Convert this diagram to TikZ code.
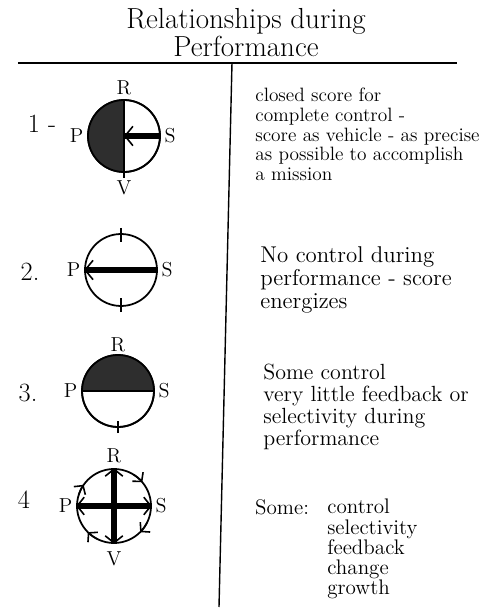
\documentclass[tikz,border=0pt]{standalone}
\usepackage{tikz}
\usetikzlibrary{arrows.meta,positioning}

\begin{document}
\begin{tikzpicture}[
  x=0.02cm, y=0.02cm,
  node distance=1pt,
  title/.style={font=\fontsize{16.5}{17}\selectfont, inner sep=0pt},
  ring/.style={circle, draw, line width=1pt, minimum size=1.44cm, inner sep=0pt},
  pole/.style={font=\fontsize{11.5}{12}\selectfont, inner sep=1pt},
  num/.style={font=\fontsize{15}{16}\selectfont},
  note/.style={align=left, anchor=north west, inner sep=0pt,
    font=\fontsize{11}{11.2}\selectfont},
  bar/.style={line width=3.4pt},
  tip/.style={line width=0.9pt, -{Straight Barb[length=4.5pt,width=11pt]}},
  tips/.style={line width=0.9pt,
    {Straight Barb[length=4pt,width=10pt]}-{Straight Barb[length=4pt,width=10pt]}},
  spin/.style={line width=0.9pt, -{Straight Barb[length=3.5pt,width=8pt]}},
  tick/.style={line width=0.9pt},
  dark/.style={fill=black!82},
  rule/.style={line width=0.8pt}
]
  \useasboundingbox (0,0) rectangle (491,610);

  % Heading
  \node[title] (head) at (246,589) {Relationships during};
  \node[title, below=1pt of head] (head2) {Performance};

  % Rules
  \coordinate (top) at (232,547);
  \coordinate (foot) at (219,3);
  \draw[rule] (18,547) -- (457,547);
  \draw[rule] (top) -- (foot);

  % 1 - closed score
  \node[ring] (c1) at (124,474) {};
  \fill[dark] (c1.center) ++(0,36) arc[start angle=90, end angle=270, radius=36] -- cycle;
  \draw[ring] (c1.center) circle[radius=36];
  \draw[tick] (c1.north) -- ([yshift=-3pt]c1.south);
  \draw[bar] (c1.east) -- (c1.center);
  \draw[tip] (c1.east) -- (c1.center);
  \node[pole, above=of c1] (r1) {R};
  \node[pole, left=of c1] (p1) {P};
  \node[pole, right=of c1] (s1) {S};
  \node[pole, below=3pt of c1] (v1) {V};
  \node[num] (n1) at (42,486) {1 -};

  % 2. no control
  \node[ring] (c2) at (121,340) {};
  \draw[tick] ([yshift=3pt]c2.north) -- ++(0,-8pt);
  \draw[tick] ([yshift=-3pt]c2.south) -- ++(0,8pt);
  \draw[bar] (c2.east) -- (c2.west);
  \draw[tip] (c2.east) -- (c2.west);
  \node[pole, left=of c2] (p2) {P};
  \node[pole, right=of c2] (s2) {S};
  \node[num] (n2) at (30,338) {2.};

  % 3. some control
  \node[ring] (c3) at (118,219) {};
  \fill[dark] (c3.center) ++(36,0) arc[start angle=0, end angle=180, radius=36] -- cycle;
  \draw[ring] (c3.center) circle[radius=36];
  \draw[tick] (c3.west) -- (c3.east);
  \draw[tick] ([yshift=-3pt]c3.south) -- ++(0,7pt);
  \node[pole, above=0pt of c3] (r3) {R};
  \node[pole, left=of c3] (p3) {P};
  \node[pole, right=of c3] (s3) {S};
  \node[num] (n3) at (28,217) {3.};

  % 4 open exchange
  \node[ring, minimum size=1.48cm] (c4) at (114,104) {};
  \draw[bar] (c4.west) -- (c4.east);
  \draw[bar] (c4.north) -- (c4.south);
  \draw[tips] (c4.west) -- (c4.east);
  \draw[tips] (c4.north) -- (c4.south);
  \foreach \a in {40,-45,-135,145}
    \draw[spin] (c4.center) ++({\a+18}:37) arc[start angle=\a+18, end angle=\a, radius=37];
  \node[pole, above=2pt of c4] (r4) {R};
  \node[pole, left=of c4] (p4) {P};
  \node[pole, right=of c4] (s4) {S};
  \node[pole, below=3pt of c4] (v4) {V};
  \node[num] (n4) at (24,110) {4};

  % Notes
  \node[note] (t1) at (255,522)
    {closed score for\\ complete control -\\ score as vehicle - as precise\\
     as possible to accomplish\\ a mission};
  \node[note, font=\fontsize{13}{13.2}\selectfont] (t2) at (260,364)
    {No control during\\ performance - score\\ energizes};
  \node[note, font=\fontsize{12.5}{12.4}\selectfont] (t3) at (263,246)
    {Some control\\ very little feedback or\\ selectivity during\\ performance};
  \node[note, font=\fontsize{12}{11.4}\selectfont] (t4) at (327,111)
    {control\\ selectivity\\ feedback\\ change\\ growth};
  \node[note, font=\fontsize{12}{11.4}\selectfont, anchor=north east]
    (some) at ([xshift=-10pt]t4.north west) {Some:};
\end{tikzpicture}
\end{document}
